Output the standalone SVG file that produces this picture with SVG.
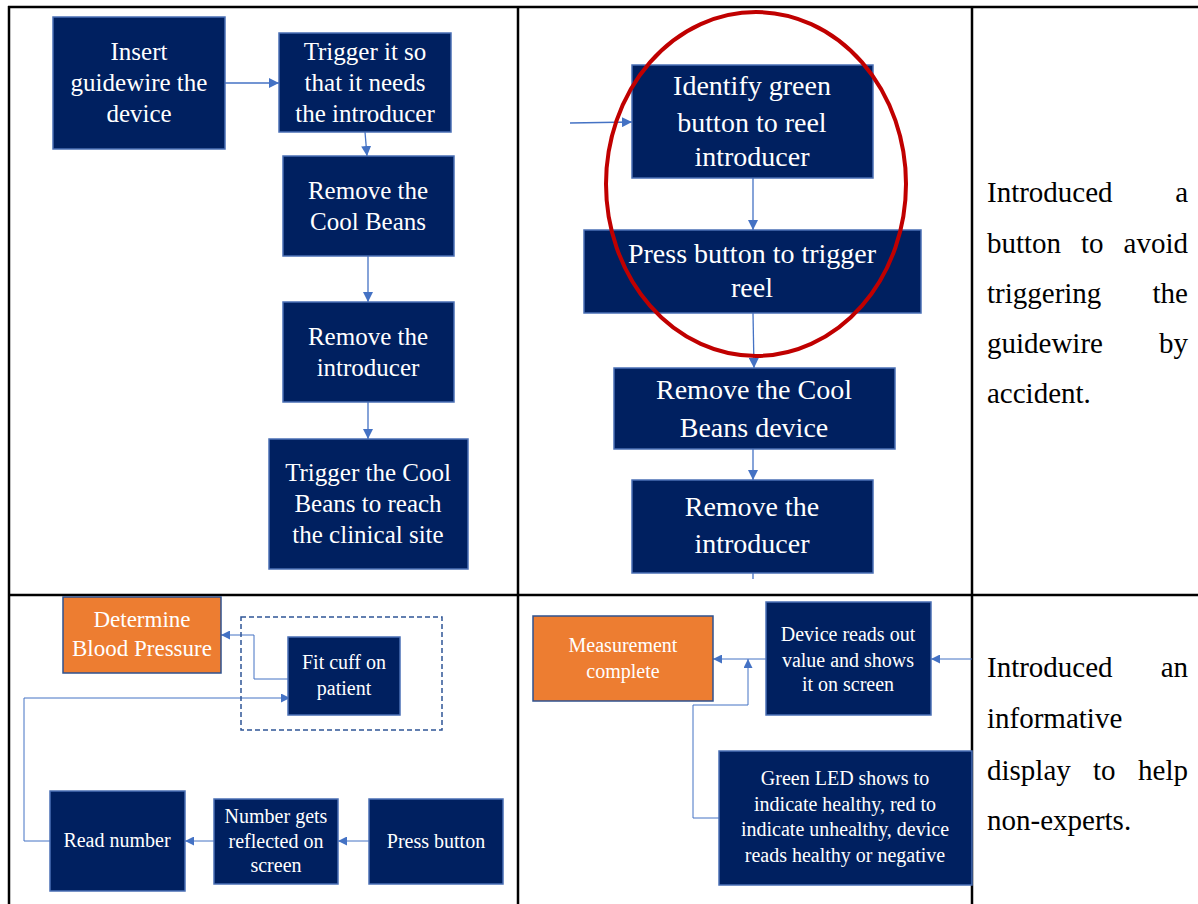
<svg xmlns="http://www.w3.org/2000/svg" width="1198" height="904" viewBox="0 0 1198 904">
  <style>
    .grid { stroke: #000; stroke-width: 2.5; fill: none; }
    .box { fill: #002060; stroke: #4a6fb5; stroke-width: 1.5; }
    .obox { fill: #ED7D31; stroke: #2F528F; stroke-width: 1.5; }
    .t { font-family: "Liberation Serif", "DejaVu Serif", serif; fill: #fff; text-anchor: middle; }
    .t25 { font-size: 25px; }
    .t28 { font-size: 28px; }
    .t20 { font-size: 20px; }
    .t23 { font-size: 23px; }
    .note { font-family: "Liberation Serif", "Times New Roman", serif; font-size: 29px; fill: #000; }
    .end { text-anchor: end; }
    .link { fill: none; stroke: #4472C4; stroke-width: 1.3; }
    .thin { fill: none; stroke: #4472C4; stroke-width: 1; }
  </style>
  <defs>
    <marker id="arr" viewBox="0 0 10 10" refX="10" refY="5" markerWidth="10" markerHeight="10" markerUnits="userSpaceOnUse" orient="auto">
      <path d="M0,0 L10,5 L0,10 z" fill="#4472C4"/>
    </marker>
    <marker id="arrS" viewBox="0 0 10 10" refX="10" refY="5" markerWidth="9" markerHeight="9" markerUnits="userSpaceOnUse" orient="auto">
      <path d="M0,0 L10,5 L0,10 z" fill="#4472C4"/>
    </marker>
  </defs>

  <rect width="1198" height="904" fill="#fff"/>

  <!-- table rules -->
  <g id="table">
    <line class="grid" x1="8" y1="7" x2="1198" y2="7"/>
    <line class="grid" x1="9" y1="6" x2="9" y2="904"/>
    <line class="grid" x1="518" y1="6" x2="518" y2="904"/>
    <line class="grid" x1="972" y1="6" x2="972" y2="904"/>
    <line class="grid" x1="8" y1="595" x2="1198" y2="595"/>
  </g>

  <!-- connectors -->
  <g id="connectors">
    <line class="link" x1="225" y1="83" x2="279" y2="83" marker-end="url(#arr)"/>
    <line class="link" x1="365" y1="132" x2="367" y2="156" marker-end="url(#arr)"/>
    <line class="link" x1="368" y1="256" x2="368" y2="302" marker-end="url(#arr)"/>
    <line class="link" x1="368" y1="402" x2="368" y2="439" marker-end="url(#arr)"/>

    <line class="link" x1="570" y1="123" x2="632" y2="122" marker-end="url(#arr)"/>
    <line class="link" x1="753" y1="178" x2="753" y2="230" marker-end="url(#arr)"/>
    <line class="link" x1="753" y1="313" x2="754" y2="368" marker-end="url(#arr)"/>
    <line class="link" x1="753" y1="449" x2="753" y2="480" marker-end="url(#arr)"/>
    <line class="link" x1="753" y1="573" x2="753" y2="579"/>

    <polyline class="thin" points="288,679 254,679 254,635 221,635" marker-end="url(#arrS)"/>
    <polyline class="thin" points="51,841 24,841 24,698 290,698" marker-end="url(#arrS)"/>
    <line class="thin" x1="369" y1="841" x2="338" y2="841" marker-end="url(#arrS)"/>
    <line class="thin" x1="214" y1="841" x2="185" y2="841" marker-end="url(#arrS)"/>

    <line class="thin" x1="972" y1="659" x2="931" y2="659" marker-end="url(#arrS)"/>
    <line class="thin" x1="766" y1="659" x2="713" y2="659" marker-end="url(#arrS)"/>
    <polyline class="thin" points="719,818 693,818 693,705 748,705 748,659" marker-end="url(#arrS)"/>
  </g>

  <!-- current process: guidewire device -->
  <g id="insert-guidewire">
    <rect class="box" x="53" y="17" width="172" height="132"/>
    <text class="t t25" x="139" y="60">Insert</text>
    <text class="t t25" x="139" y="91">guidewire the</text>
    <text class="t t25" x="139" y="122">device</text>
  </g>
  <g id="trigger-introducer">
    <rect class="box" x="279" y="33" width="172" height="99"/>
    <text class="t t25" x="365" y="60">Trigger it so</text>
    <text class="t t25" x="365" y="91">that it needs</text>
    <text class="t t25" x="365" y="122">the introducer</text>
  </g>
  <g id="remove-cool-beans">
    <rect class="box" x="283" y="156" width="171" height="100"/>
    <text class="t t25" x="368" y="199">Remove the</text>
    <text class="t t25" x="368" y="230">Cool Beans</text>
  </g>
  <g id="remove-introducer">
    <rect class="box" x="283" y="302" width="171" height="100"/>
    <text class="t t25" x="368" y="345">Remove the</text>
    <text class="t t25" x="368" y="376">introducer</text>
  </g>
  <g id="trigger-cool-beans">
    <rect class="box" x="269" y="439" width="199" height="130"/>
    <text class="t t25" x="368" y="481">Trigger the Cool</text>
    <text class="t t25" x="368" y="512">Beans to reach</text>
    <text class="t t25" x="368" y="543">the clinical site</text>
  </g>

  <!-- revised process: green button -->
  <g id="identify-button">
    <rect class="box" x="632" y="65" width="241" height="113"/>
    <text class="t t28" x="752" y="95">Identify green</text>
    <text class="t t28" x="752" y="132">button to reel</text>
    <text class="t t28" x="752" y="166">introducer</text>
  </g>
  <g id="press-button">
    <rect class="box" x="584" y="230" width="337" height="83"/>
    <text class="t t28" x="752" y="263">Press button to trigger</text>
    <text class="t t28" x="752" y="297">reel</text>
  </g>
  <g id="remove-device">
    <rect class="box" x="614" y="368" width="281" height="81"/>
    <text class="t t28" x="754" y="399">Remove the Cool</text>
    <text class="t t28" x="754" y="437">Beans device</text>
  </g>
  <g id="remove-introducer-2">
    <rect class="box" x="632" y="480" width="241" height="93"/>
    <text class="t t28" x="752" y="516">Remove the</text>
    <text class="t t28" x="752" y="553">introducer</text>
  </g>
  <g id="highlight">
    <ellipse cx="756" cy="184" rx="150" ry="172" fill="none" stroke="#C00000" stroke-width="4"/>
  </g>

  <g id="note-top">
    <text class="note" x="987" y="202">Introduced</text>
    <text class="note end" x="1188" y="202">a</text>
    <text class="note" x="987" y="253">button</text>
    <text class="note" x="1081" y="253">to</text>
    <text class="note end" x="1188" y="253">avoid</text>
    <text class="note" x="987" y="303">triggering</text>
    <text class="note end" x="1188" y="303">the</text>
    <text class="note" x="987" y="353">guidewire</text>
    <text class="note end" x="1188" y="353">by</text>
    <text class="note" x="987" y="403">accident.</text>
  </g>

  <!-- current process: blood pressure -->
  <g id="determine-bp">
    <rect class="obox" x="63" y="597" width="158" height="76"/>
    <text class="t t23" x="142" y="627">Determine</text>
    <text class="t t23" x="142" y="656">Blood Pressure</text>
  </g>
  <g id="cuff-group">
    <rect x="241" y="617" width="201" height="113" fill="none" stroke="#2F5597" stroke-width="1.5" stroke-dasharray="5,3"/>
  </g>
  <g id="fit-cuff">
    <rect class="box" x="288" y="637" width="112" height="78"/>
    <text class="t t20" x="344" y="669">Fit cuff  on</text>
    <text class="t t20" x="344" y="695">patient</text>
  </g>
  <g id="read-number">
    <rect class="box" x="50" y="791" width="135" height="100"/>
    <text class="t t20" x="117" y="847">Read number</text>
  </g>
  <g id="number-reflected">
    <rect class="box" x="214" y="799" width="124" height="85"/>
    <text class="t t20" x="276" y="823">Number gets</text>
    <text class="t t20" x="276" y="848">reflected on</text>
    <text class="t t20" x="276" y="872">screen</text>
  </g>
  <g id="press-button-bp">
    <rect class="box" x="369" y="799" width="134" height="85"/>
    <text class="t t20" x="436" y="848">Press button</text>
  </g>

  <!-- revised process: informative display -->
  <g id="measurement-complete">
    <rect class="obox" x="533" y="616" width="180" height="85"/>
    <text class="t t20" x="623" y="652">Measurement</text>
    <text class="t t20" x="623" y="678">complete</text>
  </g>
  <g id="device-reads">
    <rect class="box" x="766" y="602" width="165" height="113"/>
    <text class="t t20" x="848" y="641">Device reads out</text>
    <text class="t t20" x="848" y="667">value and shows</text>
    <text class="t t20" x="848" y="691">it on screen</text>
  </g>
  <g id="green-led">
    <rect class="box" x="719" y="751" width="253" height="134"/>
    <text class="t t20" x="845" y="785">Green LED shows to</text>
    <text class="t t20" x="845" y="811">indicate healthy, red to</text>
    <text class="t t20" x="845" y="836">indicate unhealthy, device</text>
    <text class="t t20" x="845" y="862">reads healthy or negative</text>
  </g>

  <g id="note-bottom">
    <text class="note" x="987" y="677">Introduced</text>
    <text class="note end" x="1188" y="677">an</text>
    <text class="note" x="987" y="728">informative</text>
    <text class="note" x="987" y="780">display</text>
    <text class="note" x="1093" y="780">to</text>
    <text class="note end" x="1188" y="780">help</text>
    <text class="note" x="987" y="830">non-experts.</text>
  </g>
</svg>
